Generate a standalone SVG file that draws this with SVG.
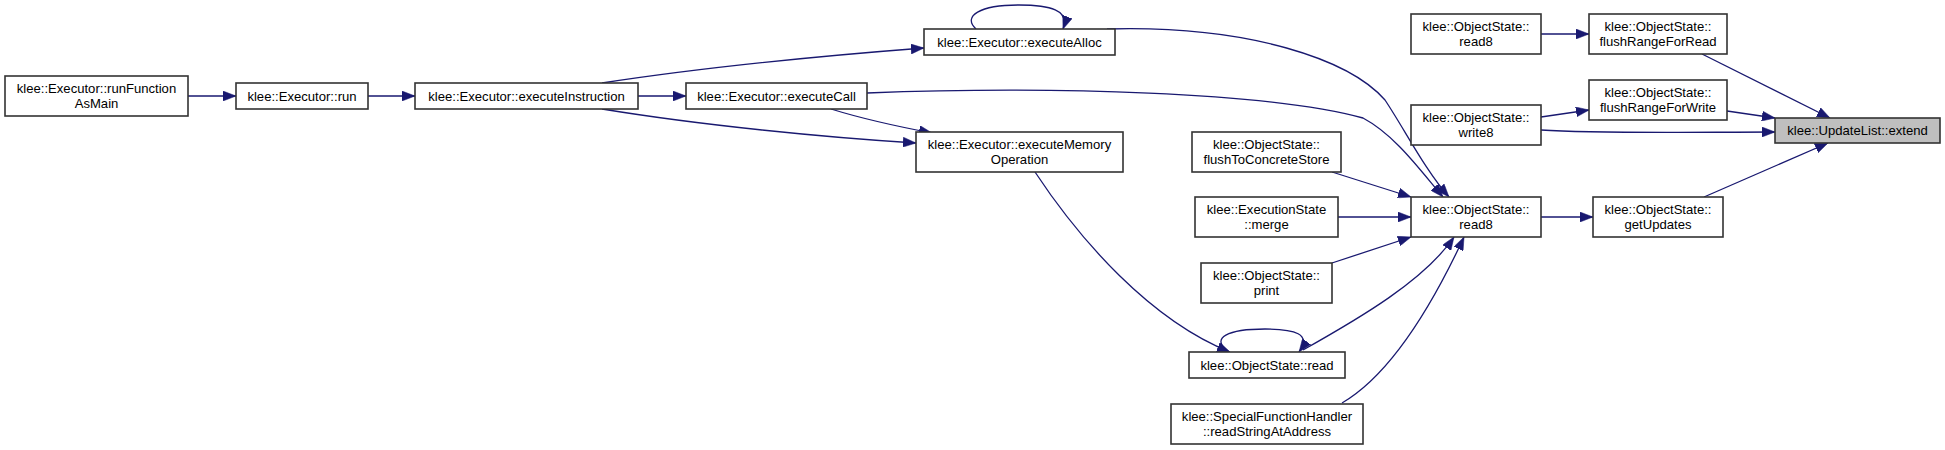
<svg xmlns="http://www.w3.org/2000/svg" width="1945" height="450" viewBox="0 0 1945 450">
<style>
.n rect{fill:#ffffff;stroke:#333333;stroke-width:1.6}
.n.f rect{fill:#bfbfbf}
.n text{font-family:"Liberation Sans",Arial,Helvetica,sans-serif;font-size:13.1px;fill:#000;text-anchor:middle}
#edges path{fill:none;stroke:#191970;stroke-width:1.3;marker-end:url(#ah)}
</style>
<defs>
<marker id="ah" viewBox="0 0 13 10" markerWidth="13" markerHeight="10" refX="13" refY="5" orient="auto" markerUnits="userSpaceOnUse">
<path d="M0,0 L13,5 L0,10 z" fill="#191970" stroke="#191970" stroke-width="0.5"/>
</marker>
</defs>
<rect width="1945" height="450" fill="#ffffff"/>
<g id="edges">
<path d="M188,96 L236,96"/>
<path d="M368,96 L415,96"/>
<path d="M638,96 L686,96"/>
<path d="M602,83 C700,68 820,56 924,48"/>
<path d="M602,109 C700,125 820,137 916,143"/>
<path d="M831,109 C860,118 895,126 932,133"/>
<path d="M976,29 C962,16 980,5 1019,5 C1050,5 1070,10 1063,29"/>
<path d="M1107,29 C1250,25 1350,60 1385,100 C1405,130 1425,170 1449,197"/>
<path d="M867,93 C1050,86 1270,92 1363,118 C1395,135 1420,170 1443,197"/>
<path d="M1332,172 L1411,197"/>
<path d="M1338,217 L1411,217"/>
<path d="M1332,263 L1411,237"/>
<path d="M1303,350 C1360,318 1425,280 1454,237"/>
<path d="M1342,403 C1390,375 1430,310 1464,237"/>
<path d="M1035,172 C1080,240 1150,320 1230,352"/>
<path d="M1228,351 C1210,338 1228,329 1265,329 C1295,329 1312,334 1299,352"/>
<path d="M1541,217 L1593,217"/>
<path d="M1541,34 L1589,34"/>
<path d="M1541,117 L1589,110"/>
<path d="M1541,130 C1600,134 1700,132 1775,132"/>
<path d="M1702,54 L1830,118"/>
<path d="M1727,111 L1775,118"/>
<path d="M1704,197 L1828,143"/>
</g>
<g id="runFunctionAsMain" class="n"><rect x="5" y="76" width="183" height="40"/><text x="96.5" y="93">klee::Executor::runFunction</text><text x="96.5" y="108">AsMain</text></g>
<g id="run" class="n"><rect x="236" y="83" width="132" height="26"/><text x="302" y="100.5">klee::Executor::run</text></g>
<g id="executeInstruction" class="n"><rect x="415" y="83" width="223" height="26"/><text x="526.5" y="100.5">klee::Executor::executeInstruction</text></g>
<g id="executeCall" class="n"><rect x="686" y="83" width="181" height="26"/><text x="776.5" y="100.5">klee::Executor::executeCall</text></g>
<g id="executeAlloc" class="n"><rect x="924" y="29" width="191" height="26"/><text x="1019.5" y="46.5">klee::Executor::executeAlloc</text></g>
<g id="executeMemoryOperation" class="n"><rect x="916" y="132" width="207" height="40"/><text x="1019.5" y="149">klee::Executor::executeMemory</text><text x="1019.5" y="164">Operation</text></g>
<g id="flushToConcreteStore" class="n"><rect x="1192" y="132" width="149" height="40"/><text x="1266.5" y="149">klee::ObjectState::</text><text x="1266.5" y="164">flushToConcreteStore</text></g>
<g id="merge" class="n"><rect x="1195" y="197" width="143" height="40"/><text x="1266.5" y="214">klee::ExecutionState</text><text x="1266.5" y="229">::merge</text></g>
<g id="print" class="n"><rect x="1201" y="263" width="131" height="40"/><text x="1266.5" y="280">klee::ObjectState::</text><text x="1266.5" y="295">print</text></g>
<g id="read" class="n"><rect x="1189" y="352" width="156" height="26"/><text x="1267" y="369.5">klee::ObjectState::read</text></g>
<g id="readStringAtAddress" class="n"><rect x="1171" y="404" width="192" height="40"/><text x="1267" y="421">klee::SpecialFunctionHandler</text><text x="1267" y="436">::readStringAtAddress</text></g>
<g id="read8_center" class="n"><rect x="1411" y="197" width="130" height="40"/><text x="1476" y="214">klee::ObjectState::</text><text x="1476" y="229">read8</text></g>
<g id="write8" class="n"><rect x="1411" y="105" width="130" height="40"/><text x="1476" y="122">klee::ObjectState::</text><text x="1476" y="137">write8</text></g>
<g id="read8_top" class="n"><rect x="1411" y="14" width="130" height="40"/><text x="1476" y="31">klee::ObjectState::</text><text x="1476" y="46">read8</text></g>
<g id="flushRangeForRead" class="n"><rect x="1589" y="14" width="138" height="40"/><text x="1658" y="31">klee::ObjectState::</text><text x="1658" y="46">flushRangeForRead</text></g>
<g id="flushRangeForWrite" class="n"><rect x="1589" y="80" width="138" height="40"/><text x="1658" y="97">klee::ObjectState::</text><text x="1658" y="112">flushRangeForWrite</text></g>
<g id="getUpdates" class="n"><rect x="1593" y="197" width="130" height="40"/><text x="1658" y="214">klee::ObjectState::</text><text x="1658" y="229">getUpdates</text></g>
<g id="extend" class="n f"><rect x="1775" y="118" width="165" height="25"/><text x="1857.5" y="135">klee::UpdateList::extend</text></g>
</svg>
